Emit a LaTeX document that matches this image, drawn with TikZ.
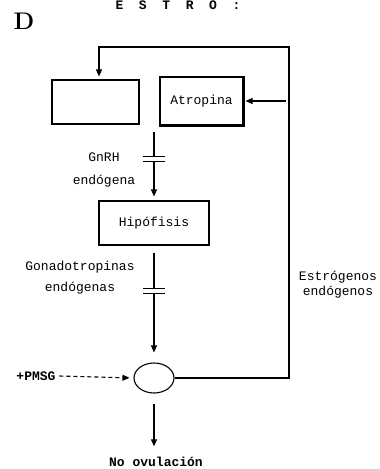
\documentclass[tikz,border=0pt]{standalone}
\usepackage{fontspec}
\setmonofont{Liberation Mono}
\usetikzlibrary{arrows.meta, positioning, calc, shapes.geometric}

% break mark on a connector (two short bars)
\newcommand{\gapmark}[1]{%
  \fill[white] ($(#1)+(-12,-3)$) rectangle ($(#1)+(12,3)$);
  \draw ($(#1)+(-11,-2.5)$) -- ++(22,0) ($(#1)+(-11,2.5)$) -- ++(22,0);}

\begin{document}
\begin{tikzpicture}[
    x=1pt, y=-1pt,
    >={Triangle[length=7pt, width=6pt]},
    line width=1.1pt,
    every node/.style={align=center, font=\ttfamily\fontsize{13}{15}\selectfont}
]

\tikzset{
    blockbox/.style={draw, rectangle, line width=1.1pt, inner sep=0pt},
    boldtext/.style={font=\ttfamily\bfseries\fontsize{13}{15}\selectfont},
    hormarrow/.style={->, line width=1.1pt},
    feedarrow/.style={->, line width=1.1pt},
    dasharrow/.style={->, line width=1.1pt, dash pattern=on 4pt off 3pt}
}

\useasboundingbox (0,0) rectangle (380,469);

\node [boldtext] (title) at (178,5) {E~~S~~T~~R~~O~~:};
\node [font=\rmfamily\bfseries\fontsize{24}{24}\selectfont] (panel) at (24,21) {D};

\node [blockbox, minimum width=87pt, minimum height=44pt] (hipot) at (95.5,102) {};
\node [blockbox, minimum width=83pt, minimum height=48pt] (atropina) at (201.5,101) {Atropina};
\draw [line width=3pt] (atropina.north east) -- (atropina.south east) -- (atropina.south west);
\node [blockbox, minimum width=110pt, minimum height=44pt] (hipofisis) at (154,223) {Hip\'ofisis};
\node [draw, ellipse, line width=1.1pt, minimum width=40pt, minimum height=30pt, inner sep=0pt] (ovario) at (154,378) {};

\node (gnrhlab) at (104,170) {GnRH\\[8pt]endógena};
\node (gonadlab) at (80,278) {Gonadotropinas\\[6pt]endógenas};
\node (estrolab) at (338,285) {Estrógenos\\endógenos};
\node [boldtext] (pmsg) at (36,376) {+PMSG};
\node [boldtext] (novul) at (156,462) {No ovulación};

\coordinate (gnrh) at (154,132);
\coordinate (tcorner) at (289,47);

\draw [hormarrow, shorten >=4pt] (gnrh) -- coordinate[pos=0.39] (cut1) (hipofisis.north);
\gapmark{cut1}

\draw [hormarrow, shorten <=7pt, shorten >=10pt] (hipofisis.south) -- coordinate[pos=0.385] (cut2) (ovario.north);
\gapmark{cut2}

\draw [hormarrow, shorten <=10pt, shorten >=7pt] (ovario.south) -- (novul.north -| ovario.south);

\draw [feedarrow, shorten >=3pt] (ovario.east) -| (tcorner) -| ($(hipot.north)+(3.5,0)$);
\draw [feedarrow, shorten <=3pt, shorten >=2pt] (tcorner |- atropina.east) -- (atropina.east);

\draw [dasharrow, shorten >=4pt] (pmsg.east) -- (ovario.west);

\end{tikzpicture}
\end{document}
